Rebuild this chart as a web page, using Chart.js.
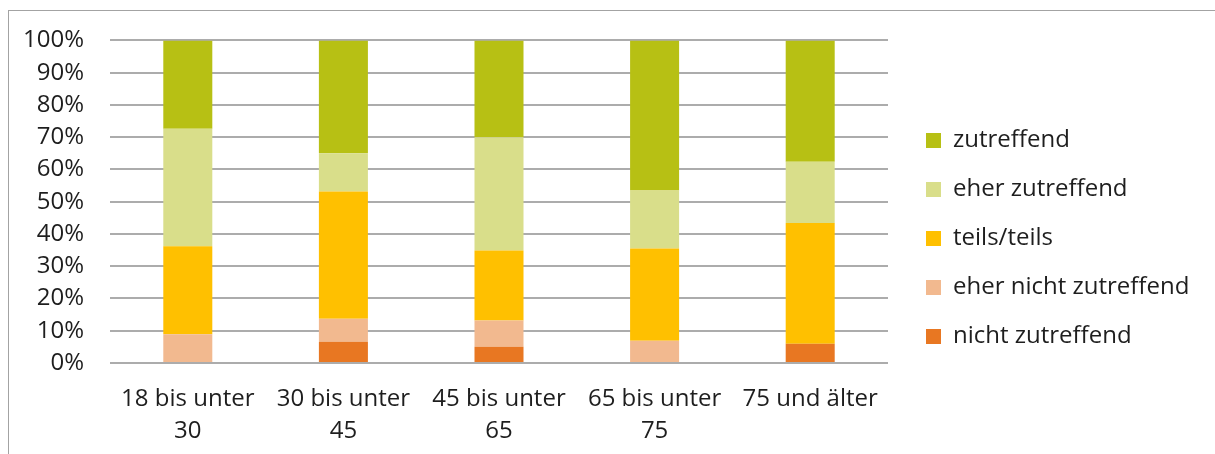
<!DOCTYPE html>
<html lang="de">
<head>
<meta charset="utf-8">
<title>Zustimmung nach Altersgruppen</title>
<script src="https://cdn.jsdelivr.net/npm/chart.js@4.4.1/dist/chart.umd.min.js"></script>
<style>
  html, body { margin: 0; padding: 0; background: #fff; }
  #wrap { position: relative; width: 1215px; height: 454px; overflow: hidden; }
  #frame {
    position: absolute; left: 8px; top: 10px; right: -4px; bottom: -4px;
    border-top: 1px solid #a3a3a3; border-left: 1px solid #a3a3a3;
  }
  canvas { position: absolute; left: 0; top: 0; }
</style>
</head>
<body>
<div id="wrap">
  <div id="frame"></div>
  <canvas id="chart"></canvas>
</div>
<script>
// Altersgruppen (x-Achse)
const categories = [
  ["18 bis unter", "30"],
  ["30 bis unter", "45"],
  ["45 bis unter", "65"],
  ["65 bis unter", "75"],
  ["75 und älter"]
];

// Anteile in Prozent je Antwortkategorie
const nichtZutreffend     = [0.0, 6.6, 5.0, 0.0, 6.0];
const eherNichtZutreffend = [8.9, 7.1, 8.2, 6.9, 0.0];
const teilsTeils          = [27.3, 39.5, 21.7, 28.6, 37.4];
const eherZutreffend      = [36.4, 11.8, 35.1, 18.0, 19.0];
const zutreffend          = [27.4, 35.0, 30.0, 46.5, 37.6];

const yTicks = [0, 10, 20, 30, 40, 50, 60, 70, 80, 90, 100];

const FONT = "'Open Sans', 'Noto Sans', sans-serif";
const TEXT = "#1e1e1e";
const GRID = "#acacac";

function series(label, data, color) {
  return {
    label,
    data,
    backgroundColor: color,
    borderWidth: 0,
    categoryPercentage: 1,
    barPercentage: 0.315
  };
}

// legend on the right keeps a fixed width so the plot ends at the same place
const legendBox = {
  id: "legendBox",
  afterInit(chart) {
    const lg = chart.legend;
    const fit = lg.fit;
    lg.fit = function () {
      fit.call(this);
      this.width = 327;
    };
  },
  afterLayout(chart) {
    const lg = chart.legend;
    lg.left += 13;
    lg.right += 13;
    lg.top -= 8;
    lg.bottom -= 8;
  }
};

new Chart(document.getElementById("chart"), {
  type: "bar",
  data: {
    labels: categories,
    datasets: [
      series("nicht zutreffend", nichtZutreffend, "#e87722"),
      series("eher nicht zutreffend", eherNichtZutreffend, "#f2b98f"),
      series("teils/teils", teilsTeils, "#ffc000"),
      series("eher zutreffend", eherZutreffend, "#d9de8a"),
      series("zutreffend", zutreffend, "#b7c014")
    ]
  },
  options: {
    responsive: true,
    maintainAspectRatio: false,
    animation: false,
    layout: { padding: { top: 39, left: 0, right: 0, bottom: 0 } },
    plugins: {
      tooltip: { enabled: false },
      legend: {
        position: "right",
        reverse: true,
        labels: {
          font: { family: FONT, size: 24 },
          color: TEXT,
          boxWidth: 15,
          boxHeight: 15,
          padding: 25
        }
      }
    },
    scales: {
      x: {
        stacked: true,
        grid: { display: false, drawTicks: false },
        border: { display: false },
        ticks: {
          color: TEXT,
          font: { family: FONT, size: 24, lineHeight: 1.33 },
          padding: 20,
          maxRotation: 0,
          autoSkip: false
        },
        afterFit(scale) { scale.height = 91; }
      },
      y: {
        stacked: true,
        min: 0,
        max: 100,
        grid: { color: GRID, lineWidth: 2, drawTicks: false },
        border: { display: false },
        afterBuildTicks(scale) {
          scale.ticks = yTicks.map(v => ({ value: v }));
        },
        ticks: {
          color: TEXT,
          font: { family: FONT, size: 24 },
          padding: 26,
          callback: v => v + "%"
        },
        afterFit(scale) { scale.width = 110; }
      }
    }
  },
  plugins: [legendBox]
});
</script>
</body>
</html>
